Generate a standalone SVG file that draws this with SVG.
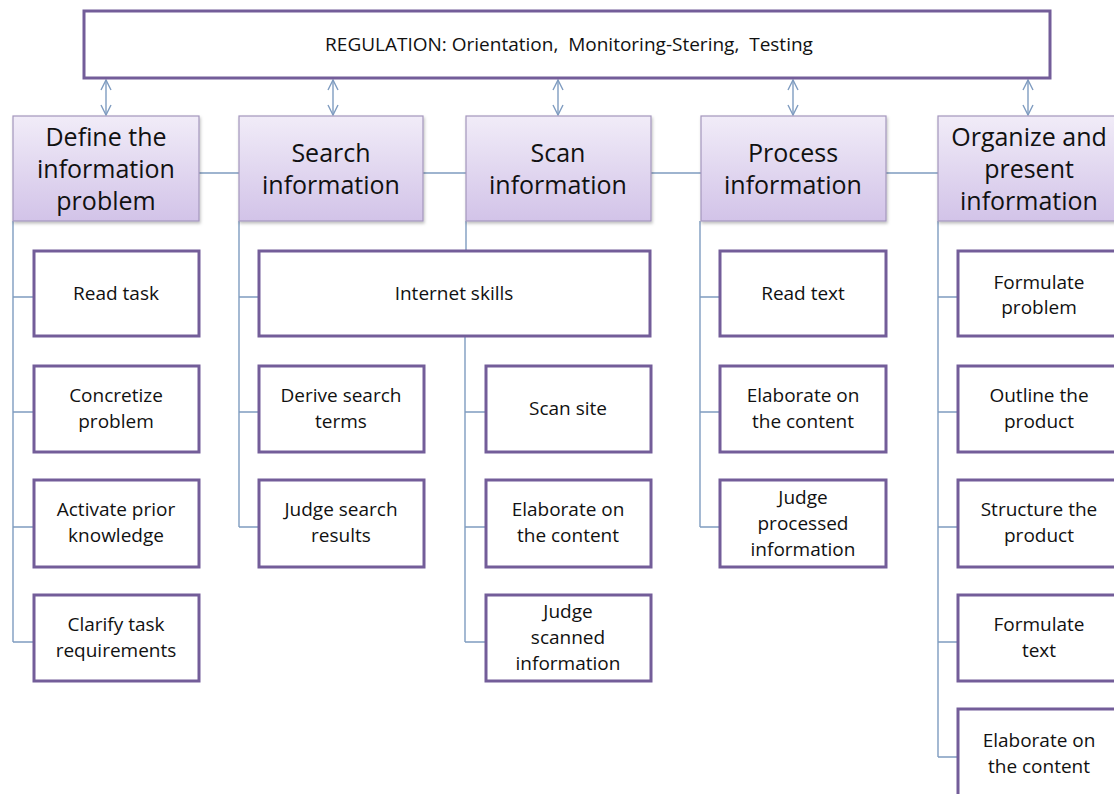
<svg xmlns="http://www.w3.org/2000/svg" width="1114" height="794" viewBox="0 0 1114 794">
<defs>
<linearGradient id="hg" x1="0" y1="0" x2="0" y2="1">
<stop offset="0" stop-color="#f1ecf8"/>
<stop offset="1" stop-color="#d2c3e8"/>
</linearGradient>
<filter id="sh" x="-5%" y="-5%" width="115%" height="120%">
<feDropShadow dx="1" dy="2" stdDeviation="1.5" flood-color="#000" flood-opacity="0.25"/>
</filter>
<marker id="ah" viewBox="0 0 12 12" refX="11" refY="6" markerWidth="12" markerHeight="12" markerUnits="userSpaceOnUse" orient="auto-start-reverse">
<path d="M1,1 L11,6 L1,11" fill="none" stroke="#7f9cc0" stroke-width="1.4"/>
</marker>
</defs>
<style>
.hdr{fill:url(#hg);stroke:#a497bd;stroke-width:1.2;filter:url(#sh)}
.box{fill:#fff;stroke:#735d99;stroke-width:3}
.ln{fill:none;stroke:#7f9cc0;stroke-width:1.4}
.arr{fill:none;stroke:#7f9cc0;stroke-width:1.4;marker-start:url(#ah);marker-end:url(#ah)}
.ht{font-family:"Open Sans","Noto Sans",sans-serif;font-size:25px;fill:#111;text-anchor:middle}
.ct{font-family:"Open Sans","Noto Sans",sans-serif;font-size:19px;fill:#111;text-anchor:middle}
.tt{font-family:"Open Sans","Noto Sans",sans-serif;font-size:19px;fill:#111;text-anchor:middle}
</style>
<rect width="1114" height="794" fill="#fff"/>
<g id="connectors">
<line class="arr" x1="106" y1="80" x2="106" y2="115"/>
<line class="arr" x1="333" y1="80" x2="333" y2="115"/>
<line class="arr" x1="558" y1="80" x2="558" y2="115"/>
<line class="arr" x1="793" y1="80" x2="793" y2="115"/>
<line class="arr" x1="1028" y1="80" x2="1028" y2="115"/>
<path class="ln" d="M199,173H239 M423,173H466 M651,173H701 M886,173H938"/>
<path class="ln" d="M13,221V642 M13,297H34 M13,412H34 M13,527H34 M13,642H34"/>
<path class="ln" d="M239,221V527 M239,297H259 M239,412H259 M239,527H259"/>
<path class="ln" d="M466,221V251 M465,336V642 M465,412H486 M465,527H486 M465,642H486"/>
<path class="ln" d="M700,221V527 M700,297H720 M700,412H720 M700,527H720"/>
<path class="ln" d="M938,221V757 M938,297H958 M938,412H958 M938,527H958 M938,642H958 M938,757H958"/>
</g>
<g id="regulation">
<rect class="box" x="84" y="11" width="966" height="67"/>
<text class="tt" x="569" y="51" xml:space="preserve">REGULATION: Orientation,  Monitoring-Stering,  Testing</text>
</g>
<g id="h-define">
<rect class="hdr" x="13" y="116" width="186" height="105"/>
<text class="ht" x="106" y="146">Define the</text>
<text class="ht" x="106" y="178">information</text>
<text class="ht" x="106" y="210">problem</text>
</g>
<g id="h-search">
<rect class="hdr" x="239" y="116" width="184" height="105"/>
<text class="ht" x="331" y="162">Search</text>
<text class="ht" x="331" y="194">information</text>
</g>
<g id="h-scan">
<rect class="hdr" x="466" y="116" width="185" height="105"/>
<text class="ht" x="558" y="162">Scan</text>
<text class="ht" x="558" y="194">information</text>
</g>
<g id="h-process">
<rect class="hdr" x="701" y="116" width="185" height="105"/>
<text class="ht" x="793" y="162">Process</text>
<text class="ht" x="793" y="194">information</text>
</g>
<g id="h-organize">
<rect class="hdr" x="938" y="116" width="184" height="105"/>
<text class="ht" x="1029" y="146">Organize and</text>
<text class="ht" x="1029" y="178">present</text>
<text class="ht" x="1029" y="210">information</text>
</g>
<g id="n-read-task"><rect class="box" x="34" y="251" width="165" height="85"/><text class="ct" x="116" y="300">Read task</text></g>
<g id="n-concretize"><rect class="box" x="34" y="366" width="165" height="86"/><text class="ct" x="116" y="402">Concretize</text><text class="ct" x="116" y="428">problem</text></g>
<g id="n-activate"><rect class="box" x="34" y="480" width="165" height="87"/><text class="ct" x="116" y="516">Activate prior</text><text class="ct" x="116" y="542">knowledge</text></g>
<g id="n-clarify"><rect class="box" x="34" y="595" width="165" height="86"/><text class="ct" x="116" y="631">Clarify task</text><text class="ct" x="116" y="657">requirements</text></g>
<g id="n-internet"><rect class="box" x="259" y="251" width="391" height="85"/><text class="ct" x="454" y="300">Internet skills</text></g>
<g id="n-derive"><rect class="box" x="259" y="366" width="165" height="86"/><text class="ct" x="341" y="402">Derive search</text><text class="ct" x="341" y="428">terms</text></g>
<g id="n-judge-search"><rect class="box" x="259" y="480" width="165" height="87"/><text class="ct" x="341" y="516">Judge search</text><text class="ct" x="341" y="542">results</text></g>
<g id="n-scan-site"><rect class="box" x="486" y="366" width="165" height="86"/><text class="ct" x="568" y="415">Scan site</text></g>
<g id="n-scan-elab"><rect class="box" x="486" y="480" width="165" height="87"/><text class="ct" x="568" y="516">Elaborate on</text><text class="ct" x="568" y="542">the content</text></g>
<g id="n-judge-scanned"><rect class="box" x="486" y="595" width="165" height="86"/><text class="ct" x="568" y="618">Judge</text><text class="ct" x="568" y="644">scanned</text><text class="ct" x="568" y="670">information</text></g>
<g id="n-read-text"><rect class="box" x="720" y="251" width="166" height="85"/><text class="ct" x="803" y="300">Read text</text></g>
<g id="n-proc-elab"><rect class="box" x="720" y="366" width="166" height="86"/><text class="ct" x="803" y="402">Elaborate on</text><text class="ct" x="803" y="428">the content</text></g>
<g id="n-judge-processed"><rect class="box" x="720" y="480" width="166" height="87"/><text class="ct" x="803" y="504">Judge</text><text class="ct" x="803" y="530">processed</text><text class="ct" x="803" y="556">information</text></g>
<g id="n-formulate-problem"><rect class="box" x="958" y="251" width="165" height="85"/><text class="ct" x="1039" y="289">Formulate</text><text class="ct" x="1039" y="314">problem</text></g>
<g id="n-outline"><rect class="box" x="958" y="366" width="165" height="86"/><text class="ct" x="1039" y="402">Outline the</text><text class="ct" x="1039" y="428">product</text></g>
<g id="n-structure"><rect class="box" x="958" y="480" width="165" height="87"/><text class="ct" x="1039" y="516">Structure the</text><text class="ct" x="1039" y="542">product</text></g>
<g id="n-formulate-text"><rect class="box" x="958" y="595" width="165" height="86"/><text class="ct" x="1039" y="631">Formulate</text><text class="ct" x="1039" y="657">text</text></g>
<g id="n-org-elab"><rect class="box" x="958" y="709" width="165" height="100"/><text class="ct" x="1039" y="747">Elaborate on</text><text class="ct" x="1039" y="773">the content</text></g>
</svg>
